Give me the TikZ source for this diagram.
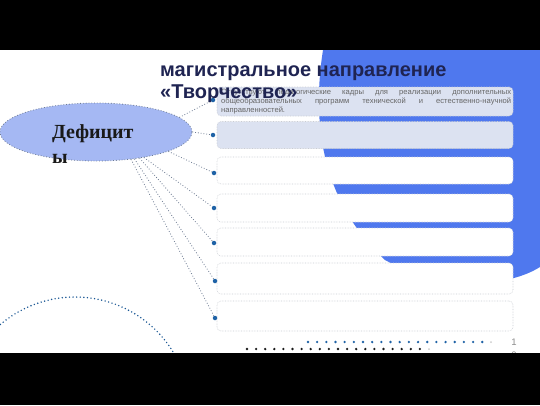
\documentclass[tikz,border=0pt]{standalone}
\usepackage{fontspec}
\setmainfont{Liberation Serif}
\newfontfamily\sansfont{Liberation Sans}
\usetikzlibrary{shapes.geometric}

\definecolor{slideblue}{HTML}{4F78EE}
\definecolor{boxblue}{HTML}{DCE2F1}
\definecolor{ovalblue}{HTML}{A5B8F3}
\definecolor{dotblue}{HTML}{1E62A6}
\definecolor{titlenavy}{HTML}{1F2452}
\definecolor{linegray}{HTML}{6E7C92}
\definecolor{edgegray}{HTML}{C9CCD2}

\tikzstyle{box}=[draw=edgegray,densely dotted,line width=0.6pt,rounded corners=4pt,minimum width=296pt,inner sep=0pt]
\tikzstyle{marker}=[circle,fill=dotblue,minimum size=4.5pt,inner sep=0pt]
\tikzstyle{link}=[draw=linegray,dotted,line width=0.8pt]
\tikzstyle{oval}=[ellipse,draw=linegray,dotted,line width=0.8pt,fill=ovalblue,minimum width=192pt,minimum height=58pt]
\tikzstyle{label}=[inner sep=0pt,anchor=base west]

\begin{document}
\begin{tikzpicture}[x=1pt,y=-1pt]
    \useasboundingbox (0,0) rectangle (540,405);
    % First we draw the slide background
    \fill[white] (0,0) rectangle (540,405);
    \fill[slideblue] (323,50) .. controls (312,120) and (320,200) .. (385,260)
        .. controls (430,285) and (500,292) .. (540,267) -- (540,50) -- cycle;
    \begin{scope}
        \clip (0,50) rectangle (540,353);
        \draw[dotblue!90!black,line width=1.6pt,line cap=round,dash pattern=on 0pt off 3.6pt] (75,412) circle (115);
    \end{scope}
    % The oval and the boxes
    \node[oval] (deficit) at (96,132) {};
    \node[label,text=black!90,font=\bfseries\fontsize{20}{25}\selectfont] (deftext) at (52,138)
        {\parbox[t]{100pt}{Дефицит\\ы}};
    \foreach \y/\h/\name/\col in {101.5/29pt/b1/boxblue, 135/27pt/b2/boxblue, 170.5/27pt/b3/white,
        208/28pt/b4/white, 242/28pt/b5/white, 278.5/31pt/b6/white, 316/30pt/b7/white}
        \node[box,fill=\col,minimum height=\h] (\name) at (365,\y) {};
    \node[label,text=black!60,font=\sansfont\fontsize{7.6}{9}\selectfont] (b1text) at (221,94)
        {\parbox[t]{290pt}{\makebox[290pt][s]{Отсутствуют педагогические кадры для реализации дополнительных}\\
        \makebox[290pt][s]{общеобразовательных программ технической и естественно-научной}\\
        направленностей.}};
    % Markers, then connect the oval to them
    \foreach \pos/\name in {{(213,100)/d1}, {(213,135)/d2}, {(214,173)/d3}, {(214,208)/d4},
        {(214,243)/d5}, {(215,281)/d6}, {(215,318)/d7}}
        \node[marker] (\name) at \pos {};
    \foreach \ang/\dest in {10/d1, 0/d2, -15/d3, -28/d4, -31/d5, -35/d6, -38/d7}
        \path[link] (deficit.\ang) -- (\dest);
    \node[label,text=titlenavy,font=\sansfont\bfseries\fontsize{20}{22.5}\selectfont] (title) at (160,76)
        {\parbox[t]{320pt}{магистральное направление\\«Творчество»}};
    % Dotted rows and page number
    \foreach \i in {0,...,19} {
        \fill[dotblue] (308+9.17*\i,342) circle (1.3);
        \fill[black!90] (247+9.1*\i,349) circle (1.3);
    }
    \fill[black!20] (491,342) circle (1);
    \fill[black!20] (429,349) circle (1);
    \node[label,anchor=base,text=black!45,font=\sansfont\fontsize{9.5}{13}\selectfont] (pagenum) at (514,345)
        {\parbox[t]{8pt}{\centering 1\\0}};
    % Black bars
    \fill[black] (0,0) rectangle (540,50);
    \fill[black] (0,353) rectangle (540,405);
\end{tikzpicture}
\end{document}
